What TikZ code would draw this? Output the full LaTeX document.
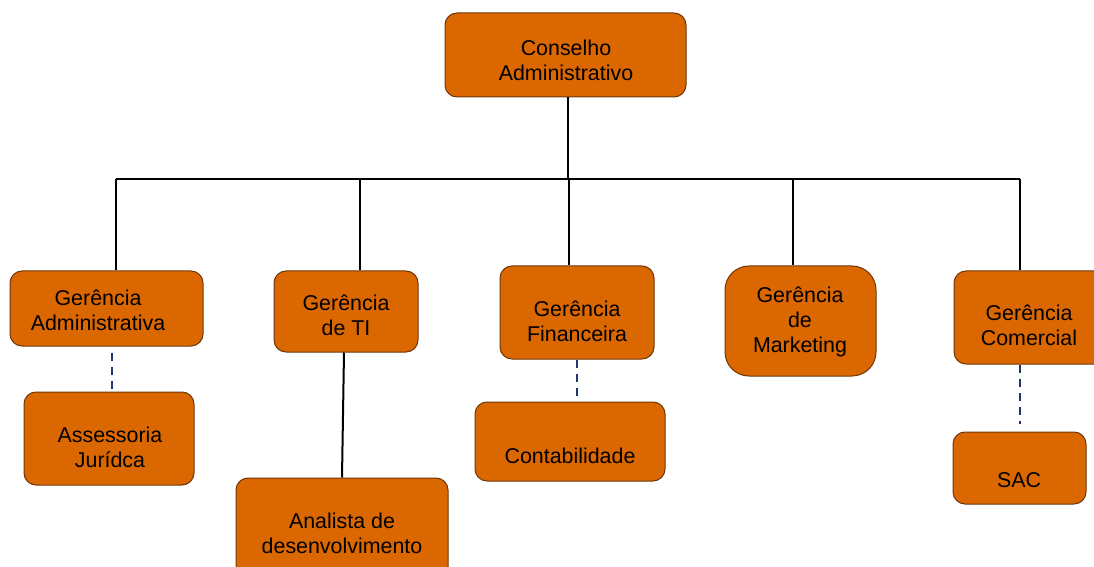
\documentclass[tikz,border=0pt]{standalone}
\usepackage{fontspec}
\setmainfont{Liberation Sans}
\usetikzlibrary{fit,positioning}

\definecolor{boxorange}{RGB}{219,103,0}
\definecolor{boxedge}{RGB}{110,55,10}
\definecolor{dashblue}{RGB}{31,56,110}

\begin{document}
\begin{tikzpicture}[x=0.5pt, y=-0.5pt,
    box/.style={draw=boxedge, fill=boxorange, line width=0.5pt, rounded corners=6pt, inner sep=0pt},
    boxtxt/.style={align=center, font=\fontsize{10.7}{12.5}\selectfont, inner sep=0pt},
    link/.style={line width=1pt},
    assoc/.style={draw=dashblue, line width=1pt, dash pattern=on 4pt off 3pt}]
    \clip (0,0) rectangle (1094,567);
    \node[box, fit={(445,13) (686,97)}] (conselho) {};
    \node[box, fit={(10,271) (203,346)}] (gadm) {};
    \node[box, fit={(274,271) (418,352)}] (gti) {};
    \node[box, fit={(500,266) (654,359)}] (gfin) {};
    \node[box, rounded corners=12pt, fit={(725,266) (876,376)}] (gmkt) {};
    \node[box, fit={(954,271) (1110,364)}] (gcom) {};
    \node[box, fit={(24,392) (194,485)}] (assess) {};
    \node[box, fit={(236,478) (448,580)}] (analista) {};
    \node[box, fit={(475,402) (665,481)}] (contab) {};
    \node[box, fit={(953,432) (1086,504)}] (sac) {};
    \node[boxtxt] (conselho-t) at (566,60) {Conselho\\Administrativo};
    \node[boxtxt] (gadm-t) at (98,310) {Gerência\\Administrativa};
    \node[boxtxt] (gti-t) at (346,315) {Gerência\\de TI};
    \node[boxtxt] (gfin-t) at (577,321) {Gerência\\Financeira};
    \node[boxtxt] (gmkt-t) at (800,322) {Gerência\\de\\Marketing};
    \node[boxtxt] (gcom-t) at (1029,325) {Gerência\\Comercial};
    \node[boxtxt] (assess-t) at (110,447) {Assessoria\\Jurídca};
    \node[boxtxt] (analista-t) at (342,533) {Analista de\\desenvolvimento};
    \node[boxtxt] (contab-t) at (570,456) {Contabilidade};
    \node[boxtxt] (sac-t) at (1019,480) {SAC};
    \foreach \n/\x in {gadm/116, gti/360, gfin/569, gmkt/793, gcom/1020} {
      \coordinate (bus-\n) at (\x,179);
      \draw[link] (bus-\n) -- (bus-\n |- \n.north);
    }
    \draw[link] (bus-gadm) -- (bus-gcom);
    \draw[link] ([xshift=1.2pt]conselho.south) -- ([xshift=1.2pt]conselho.south |- bus-gadm);
    \draw[link] ([xshift=-1pt]gti.south) -- (analista.north);
    \draw[assoc, shorten <=3pt, shorten >=1pt] ([xshift=1.5pt]assess.north |- gadm.south) -- ([xshift=1.5pt]assess.north);
    \draw[assoc] (gfin.south) -- (gfin.south |- contab.north);
    \draw[assoc, shorten >=4pt] (sac.north |- gcom.south) -- (sac.north);
\end{tikzpicture}
\end{document}
